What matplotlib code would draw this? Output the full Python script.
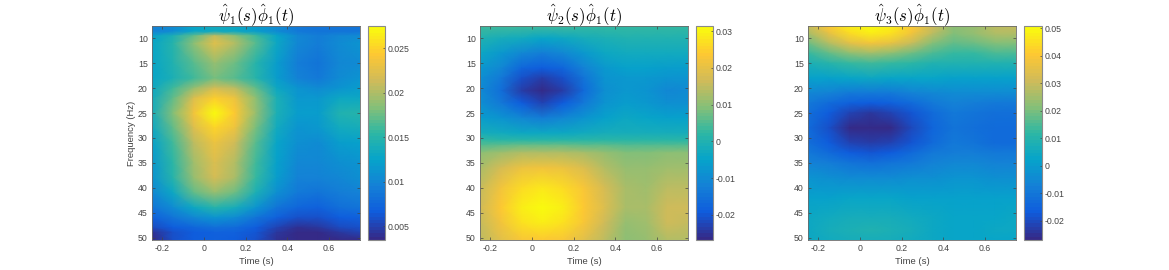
import numpy as np
import matplotlib
matplotlib.use("Agg")
import matplotlib.pyplot as plt
from matplotlib.colors import LinearSegmentedColormap

plt.rcParams['font.family'] = ['Liberation Sans', 'DejaVu Sans']
plt.rcParams['mathtext.fontset'] = 'cm'

times = [-0.25, -0.15, -0.05, 0.05, 0.15, 0.25, 0.35, 0.45, 0.55, 0.65, 0.75]
freqs1 = [7.5, 8.6, 9.5, 11, 15, 18, 20, 22, 25, 28, 31, 35, 38, 41, 44, 46, 48, 49, 50.5]
vals1 = [
 [.0095, .0105, .0125, .0135, .0130, .0120, .0105, .0090, .0085, .0085, .0085],
 [.0095, .0105, .0125, .0135, .0130, .0120, .0105, .0090, .0085, .0085, .0085],
 [.0122, .0142, .0172, .0210, .0188, .0160, .0125, .0100, .0092, .0100, .0105],
 [.0125, .0150, .0185, .0225, .0200, .0168, .0130, .0100, .0092, .0105, .0110],
 [.0125, .0145, .0168, .0190, .0175, .0150, .0120, .0092, .0085, .0100, .0105],
 [.0125, .0142, .0162, .0178, .0168, .0148, .0120, .0098, .0090, .0105, .0110],
 [.0132, .0160, .0192, .0215, .0205, .0172, .0132, .0110, .0105, .0112, .0118],
 [.0135, .0172, .0220, .0245, .0232, .0185, .0140, .0115, .0115, .0130, .0132],
 [.0138, .0182, .0235, .0273, .0242, .0190, .0142, .0118, .0120, .0145, .0148],
 [.0132, .0172, .0222, .0252, .0230, .0178, .0135, .0112, .0115, .0135, .0138],
 [.0122, .0160, .0205, .0230, .0212, .0168, .0128, .0106, .0105, .0118, .0122],
 [.0116, .0152, .0195, .0220, .0202, .0160, .0122, .0100, .0100, .0108, .0112],
 [.0112, .0148, .0190, .0215, .0198, .0155, .0118, .0096, .0095, .0102, .0106],
 [.0102, .0132, .0170, .0190, .0176, .0140, .0106, .0088, .0085, .0092, .0096],
 [.0086, .0105, .0132, .0148, .0138, .0110, .0086, .0073, .0072, .0080, .0085],
 [.0070, .0085, .0100, .0110, .0105, .0085, .0070, .0060, .0060, .0066, .0072],
 [.0055, .0065, .0075, .0080, .0078, .0068, .0052, .0042, .0045, .0055, .0060],
 [.0040, .0060, .0068, .0072, .0070, .0062, .0045, .0036, .0038, .0045, .0050],
 [.0038, .0060, .0068, .0072, .0068, .0058, .0040, .0034, .0035, .0038, .0038],
]

freqs2 = [7.5, 10, 13, 16, 18, 20.5, 23, 26, 29, 30.5, 31.5, 33, 36, 40, 44, 47, 50.5]
vals2 = [
 [ .0040,  .0040,  .0040,  .0040,  .0040,  .0030,  .0030,  .0030,  .0030,  .0030,  .0030],
 [ .0000, -.0015, -.0030, -.0045, -.0035, -.0020, -.0005,  .0000,  .0000,  .0000,  .0000],
 [-.0040, -.0070, -.0110, -.0130, -.0110, -.0075, -.0040, -.0030, -.0025, -.0030, -.0030],
 [-.0075, -.0110, -.0170, -.0190, -.0170, -.0120, -.0075, -.0055, -.0055, -.0065, -.0065],
 [-.0090, -.0140, -.0205, -.0235, -.0205, -.0145, -.0085, -.0070, -.0075, -.0085, -.0085],
 [-.0100, -.0155, -.0235, -.0268, -.0235, -.0160, -.0090, -.0075, -.0085, -.0105, -.0100],
 [-.0090, -.0135, -.0195, -.0225, -.0195, -.0135, -.0080, -.0065, -.0075, -.0090, -.0090],
 [-.0060, -.0080, -.0110, -.0125, -.0110, -.0080, -.0050, -.0040, -.0045, -.0055, -.0055],
 [-.0020, -.0030, -.0040, -.0040, -.0035, -.0030, -.0020, -.0015, -.0015, -.0020, -.0020],
 [ .0025,  .0020,  .0015,  .0015,  .0015,  .0020,  .0020,  .0020,  .0020,  .0020,  .0020],
 [ .0055,  .0065,  .0070,  .0075,  .0070,  .0060,  .0060,  .0055,  .0055,  .0055,  .0055],
 [ .0100,  .0120,  .0135,  .0140,  .0135,  .0125,  .0105,  .0095,  .0095,  .0100,  .0100],
 [ .0130,  .0175,  .0205,  .0215,  .0205,  .0180,  .0140,  .0110,  .0108,  .0120,  .0120],
 [ .0155,  .0215,  .0260,  .0280,  .0265,  .0225,  .0170,  .0125,  .0122,  .0150,  .0150],
 [ .0165,  .0235,  .0290,  .0314,  .0290,  .0240,  .0185,  .0128,  .0130,  .0168,  .0165],
 [ .0155,  .0220,  .0270,  .0290,  .0270,  .0225,  .0165,  .0110,  .0122,  .0160,  .0155],
 [ .0145,  .0195,  .0230,  .0240,  .0230,  .0195,  .0145,  .0100,  .0108,  .0140,  .0135],
]

freqs3 = [7.5, 9, 11, 13, 15, 18, 21, 23, 25, 28, 31, 33, 35, 38, 42, 46, 48.5, 50.5]
vals3 = [
 [ .0300,  .0400,  .0480,  .0508,  .0480,  .0410,  .0310,  .0225,  .0240,  .0280,  .0290],
 [ .0260,  .0360,  .0445,  .0480,  .0450,  .0380,  .0280,  .0215,  .0230,  .0265,  .0275],
 [ .0190,  .0270,  .0345,  .0380,  .0350,  .0295,  .0215,  .0175,  .0180,  .0205,  .0210],
 [ .0130,  .0175,  .0220,  .0245,  .0225,  .0190,  .0150,  .0125,  .0130,  .0145,  .0150],
 [ .0080,  .0105,  .0125,  .0135,  .0125,  .0110,  .0090,  .0085,  .0085,  .0090,  .0090],
 [ .0010,  .0020,  .0030,  .0035,  .0030,  .0030,  .0025,  .0020,  .0020,  .0020,  .0020],
 [-.0060, -.0075, -.0090, -.0095, -.0090, -.0075, -.0055, -.0040, -.0045, -.0050, -.0050],
 [-.0095, -.0125, -.0160, -.0170, -.0160, -.0125, -.0090, -.0070, -.0080, -.0090, -.0090],
 [-.0115, -.0165, -.0220, -.0235, -.0220, -.0175, -.0125, -.0090, -.0100, -.0115, -.0115],
 [-.0125, -.0195, -.0258, -.0270, -.0258, -.0205, -.0140, -.0102, -.0112, -.0133, -.0133],
 [-.0120, -.0170, -.0218, -.0232, -.0218, -.0175, -.0125, -.0098, -.0105, -.0125, -.0125],
 [-.0095, -.0130, -.0165, -.0175, -.0165, -.0135, -.0098, -.0078, -.0082, -.0098, -.0098],
 [-.0065, -.0085, -.0105, -.0115, -.0105, -.0088, -.0068, -.0055, -.0058, -.0065, -.0065],
 [-.0025, -.0030, -.0040, -.0045, -.0040, -.0035, -.0030, -.0025, -.0025, -.0030, -.0030],
 [ .0015,  .0020,  .0025,  .0025,  .0025,  .0020,  .0015,  .0010,  .0010,  .0010,  .0010],
 [ .0040,  .0050,  .0065,  .0070,  .0065,  .0050,  .0035,  .0025,  .0025,  .0030,  .0035],
 [ .0045,  .0060,  .0080,  .0090,  .0080,  .0060,  .0040,  .0025,  .0030,  .0040,  .0040],
 [ .0040,  .0050,  .0060,  .0065,  .0060,  .0050,  .0035,  .0025,  .0025,  .0030,  .0030],
]

titles = [r'$\hat{\psi}_1(s)\hat{\phi}_1(t)$', r'$\hat{\psi}_2(s)\hat{\phi}_1(t)$', r'$\hat{\psi}_3(s)\hat{\phi}_1(t)$']
xticks = [-0.2, 0, 0.2, 0.4, 0.6]
xticklabels = ['-0.2', '0', '0.2', '0.4', '0.6']
yticks = [10, 15, 20, 25, 30, 35, 40, 45, 50]
climits = [(.00346, .02747), (-.0268, .0314), (-.0270, .0508)]
cticks = [[.005, .01, .015, .02, .025],
          [-.02, -.01, 0, .01, .02, .03],
          [-.02, -.01, 0, .01, .02, .03, .04, .05]]
cticklabels = [['0.005', '0.01', '0.015', '0.02', '0.025'],
               ['-0.02', '-0.01', '0', '0.01', '0.02', '0.03'],
               ['-0.02', '-0.01', '0', '0.01', '0.02', '0.03', '0.04', '0.05']]

parula = LinearSegmentedColormap.from_list('parula', [
    '#352A87', '#0F5CDD', '#1481D6', '#06A4CA', '#2EB7A4',
    '#87BF77', '#D1BB59', '#FEC832', '#F9FB0E'], N=64)

W, H = 1169, 270
axes_px = [(152, 360), (480, 688), (808, 1016)]
cbar_px = [(368, 385), (696, 713), (1024, 1042)]
TOP, BOT = 26, 240
edge = '#6a6a6a'
txt = '#444444'

fig = plt.figure(figsize=(W / 100, H / 100), dpi=100, facecolor='white')

def rect(x0, x1):
    return [x0 / W, 1 - BOT / H, (x1 - x0) / W, (BOT - TOP) / H]

data = [(freqs1, vals1), (freqs2, vals2), (freqs3, vals3)]
for i, (fr, vals) in enumerate(data):
    ax = fig.add_axes(rect(*axes_px[i]))
    m = ax.pcolormesh(times, fr, np.array(vals), shading='gouraud', cmap=parula,
                      vmin=climits[i][0], vmax=climits[i][1], rasterized=True)
    ax.set_xlim(-0.25, 0.75)
    ax.set_ylim(50.5, 7.5)
    ax.set_xticks(xticks, xticklabels)
    ax.set_yticks(yticks)
    ax.tick_params(direction='in', length=2, width=0.5, colors=txt, labelsize=6.3,
                   top=True, right=True, pad=3)
    for s in ax.spines.values():
        s.set_linewidth(0.6)
        s.set_color(edge)
    ax.set_xlabel('Time (s)', fontsize=6.8, color=txt, labelpad=3)
    if i == 0:
        ax.set_ylabel('Frequency (Hz)', fontsize=6.8, color=txt, labelpad=1.5)
    ax.set_title(titles[i], fontsize=12, color='black', pad=3)

    cax = fig.add_axes(rect(*cbar_px[i]))
    cb = fig.colorbar(m, cax=cax)
    cb.set_ticks(cticks[i], labels=cticklabels[i])
    cax.tick_params(direction='in', length=1.5, width=0.5, colors=txt, labelsize=6.3, pad=2)
    cb.outline.set_linewidth(0.8)
    cb.outline.set_edgecolor('#8a8a8a')

fig.savefig('out.png', dpi=100, facecolor='white')
